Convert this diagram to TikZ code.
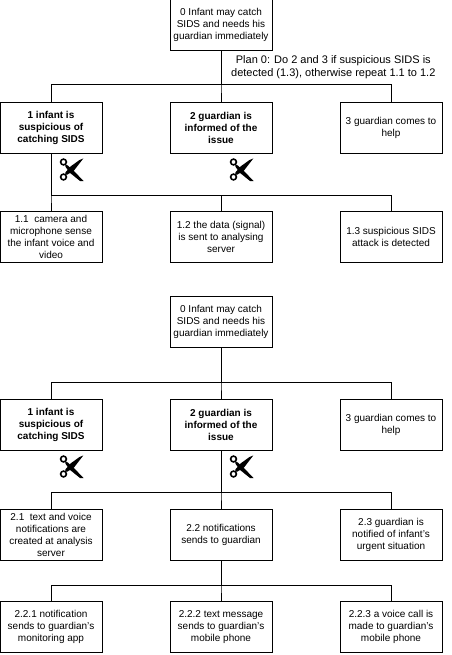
\documentclass[tikz,border=0pt]{standalone}
\usepackage{fontspec}
\setmainfont{Liberation Sans}
\usetikzlibrary{calc}

\tikzset{
  taskbox/.style={draw, line width=0.8pt, minimum width=102pt, minimum height=51pt, inner sep=0pt,
    align=center, font=\fontsize{10}{12}\selectfont},
  boldbox/.style={taskbox, font=\fontsize{10}{12}\selectfont\bfseries},
  link/.style={line width=0.8pt},
  cutmark/.pic={
    \draw[line width=1.6pt] (-8,7.5) circle (2.9);
    \draw[line width=1.6pt] (-8,-7.5) circle (2.9);
    % blades
    \fill (-6.4,5.4) -- (-4,4.2) -- (2,-1) -- (12,-11.5) -- (8.5,-11.5) -- (-2,-3) -- (-6,2.8) -- cycle;
    \fill (-6.4,-5.4) -- (-4,-5) -- (2.5,-1) -- (11.8,11) -- (8,9.5) -- (-1,3) -- (-6,-2.8) -- cycle;
  }
}

\begin{document}
\begin{tikzpicture}[x=1pt, y=1pt]
  \useasboundingbox (0,0) rectangle (451,-655);
  % first tree
  \node[taskbox] (top) at (221,-24.5) {0 Infant may catch\\SIDS and needs his\\guardian immediately};
  \node[boldbox] (infant) at (51,-127.5) {1 infant is\\suspicious of\\catching SIDS};
  \node[boldbox] (guardian) at (221,-127.5) {2 guardian is\\informed of the\\issue};
  \node[taskbox] (help) at (391,-127.5) {3 guardian comes to\\help};
  \node[taskbox] (camera) at (51,-237) {1.1\ \ camera and\\microphone sense\\the infant voice and\\video};
  \node[taskbox] (data) at (221,-237) {1.2 the data (signal)\\is sent to analysing\\server};
  \node[taskbox] (attack) at (391,-237) {1.3 suspicious SIDS\\attack is detected};
  \node[font=\fontsize{11}{13}\selectfont, align=center, inner sep=0pt] (plan) at (333.3,-67) {Plan 0: Do 2 and 3 if suspicious SIDS is\\detected (1.3), otherwise repeat 1.1 to 1.2};

  \foreach \kid in {infant,guardian,help}
    \draw[link] (top.south) -- ++(0,-34) -| (\kid.north);
  \foreach \kid in {camera,data,attack}
    \draw[link] (infant.south) -- ++(0,-42) -| (\kid.north);
  \pic at (71.5,-169.5) {cutmark};
  \pic at (241.5,-169.5) {cutmark};

  % second tree
  \node[taskbox] (top2) at (221,-322) {0 Infant may catch\\SIDS and needs his\\guardian immediately};
  \node[boldbox] (infant2) at (51,-425) {1 infant is\\suspicious of\\catching SIDS};
  \node[boldbox] (guardian2) at (221,-425) {2 guardian is\\informed of the\\issue};
  \node[taskbox] (help2) at (391,-425) {3 guardian comes to\\help};
  \node[taskbox] (server) at (51,-534.5) {2.1\ \ text and voice\\notifications are\\created at analysis\\server};
  \node[taskbox] (send) at (221,-534.5) {2.2 notifications\\sends to guardian};
  \node[taskbox] (urgent) at (391,-534.5) {2.3 guardian is\\notified of infant's\\urgent situation};
  \node[taskbox] (app) at (51,-627) {2.2.1 notification\\sends to guardian's\\monitoring app};
  \node[taskbox] (text) at (221,-627) {2.2.2 text message\\sends to guardian's\\mobile phone};
  \node[taskbox] (call) at (391,-627) {2.2.3 a voice call is\\made to guardian's\\mobile phone};

  \foreach \kid in {infant2,guardian2,help2}
    \draw[link] (top2.south) -- ++(0,-34.5) -| (\kid.north);
  \foreach \kid in {server,send,urgent}
    \draw[link] (guardian2.south) -- ++(0,-41.5) -| (\kid.north);
  \foreach \kid in {app,text,call}
    \draw[link] (send.south) -- ++(0,-25) -| (\kid.north);
  \pic at (71.5,-466.5) {cutmark};
  \pic at (241.5,-466.5) {cutmark};
\end{tikzpicture}
\end{document}
